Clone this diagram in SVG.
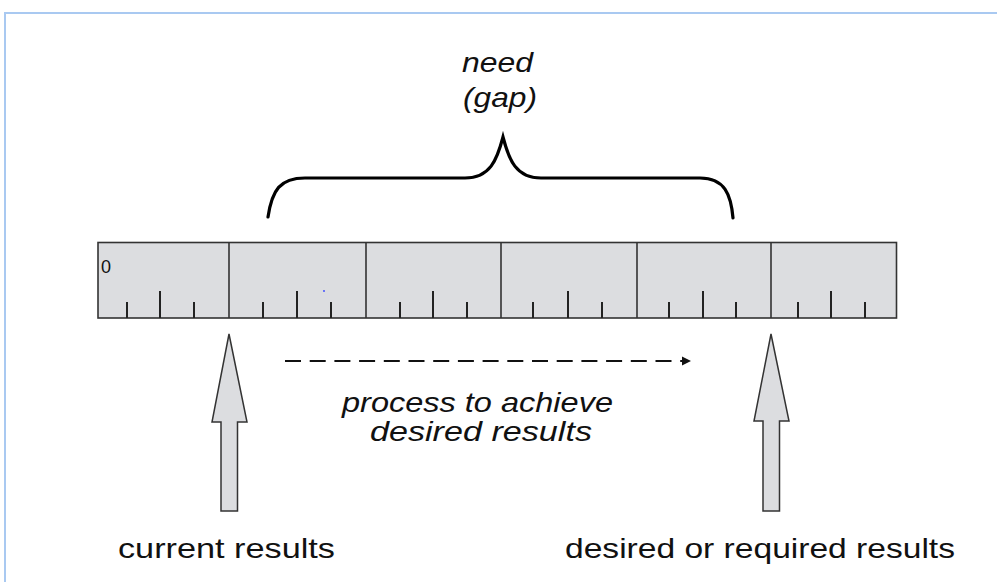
<svg xmlns="http://www.w3.org/2000/svg" width="997" height="582" viewBox="0 0 997 582">
<style>
.lbl{font-family:"Liberation Sans",Arial,sans-serif;fill:#111;}
.it{font-style:italic;font-size:28px;}
.up{font-size:28px;}
.tick{stroke:#222;stroke-width:2;}
.div{stroke:#333;stroke-width:1.6;}
.fat{fill:#dcdde0;stroke:#333;stroke-width:1.5;stroke-linejoin:miter;}
</style>
<rect x="0" y="0" width="997" height="582" fill="#fff"/>
<path d="M5,582 L5,13 L997,13" fill="none" stroke="#a9c9f1" stroke-width="2"/>

<g id="ruler">
<rect x="98" y="242.5" width="798.5" height="75.5" fill="#dcdde0" stroke="#333" stroke-width="1.6"/>
<line class="div" x1="229" y1="242.5" x2="229" y2="318"/>
<line class="div" x1="366" y1="242.5" x2="366" y2="318"/>
<line class="div" x1="501" y1="242.5" x2="501" y2="318"/>
<line class="div" x1="637" y1="242.5" x2="637" y2="318"/>
<line class="div" x1="771" y1="242.5" x2="771" y2="318"/>
<g class="tick">
<line x1="127" y1="302" x2="127" y2="318"/><line x1="160" y1="291" x2="160" y2="318"/><line x1="194" y1="302" x2="194" y2="318"/>
<line x1="263" y1="302" x2="263" y2="318"/><line x1="297" y1="291" x2="297" y2="318"/><line x1="331" y1="302" x2="331" y2="318"/>
<line x1="400" y1="302" x2="400" y2="318"/><line x1="433" y1="291" x2="433" y2="318"/><line x1="467" y1="302" x2="467" y2="318"/>
<line x1="533" y1="302" x2="533" y2="318"/><line x1="568" y1="291" x2="568" y2="318"/><line x1="602" y1="302" x2="602" y2="318"/>
<line x1="669" y1="302" x2="669" y2="318"/><line x1="703" y1="291" x2="703" y2="318"/><line x1="736" y1="302" x2="736" y2="318"/>
<line x1="798" y1="302" x2="798" y2="318"/><line x1="831" y1="291" x2="831" y2="318"/><line x1="865" y1="302" x2="865" y2="318"/>
</g>
<text class="lbl" x="101" y="273" font-size="18">0</text>
<circle cx="324" cy="291" r="0.9" fill="#3344ff"/>
</g>

<g id="need">
<path d="M268,217 C272,190 280,178 305,178 L465,178 C490,178 497,160 503,137 C509,160 516,178 541,178 L700,178 C725,178 731,195 733,218" fill="none" stroke="#000" stroke-width="3.2" stroke-linecap="round"/>
<text class="lbl it" x="462" y="72" textLength="71" lengthAdjust="spacingAndGlyphs">need</text>
<text class="lbl it" x="463" y="107" textLength="74" lengthAdjust="spacingAndGlyphs">(gap)</text>
</g>

<g id="current">
<polygon class="fat" points="229,334 247,422 237.5,422 237.5,511 221,511 221,422 212,422"/>
<text class="lbl up" x="118" y="558" textLength="217" lengthAdjust="spacingAndGlyphs">current results</text>
</g>

<g id="desired">
<polygon class="fat" points="771,334 789,421 779.5,421 779.5,511 763,511 763,421 754,421"/>
<text class="lbl up" x="565" y="558" textLength="390" lengthAdjust="spacingAndGlyphs">desired or required results</text>
</g>

<g id="connectors">
<line x1="285" y1="361" x2="682" y2="361" stroke="#111" stroke-width="2" stroke-dasharray="16 8.7"/>
<polygon points="682,356.5 691,361 682,365.5" fill="#111"/>
<text class="lbl it" x="342" y="412" textLength="271" lengthAdjust="spacingAndGlyphs">process to achieve</text>
<text class="lbl it" x="370" y="441" textLength="222" lengthAdjust="spacingAndGlyphs">desired results</text>
</g>
</svg>
